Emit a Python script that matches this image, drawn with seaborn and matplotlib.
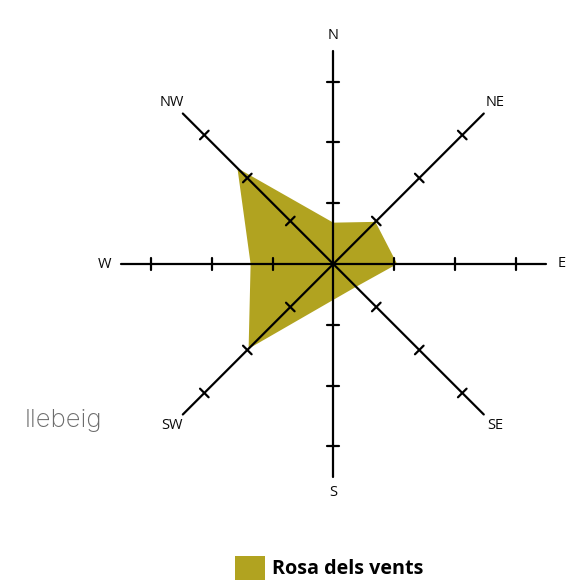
import numpy as np
import pandas as pd
import matplotlib
matplotlib.use("Agg")
import matplotlib.pyplot as plt
from matplotlib.patches import Patch
import seaborn as sns

# ---- data ----
directions = ["N", "NE", "E", "SE", "S", "SW", "W", "NW"]
bearings = [0, 45, 90, 135, 180, 225, 270, 315]
values = [0.68, 0.98, 1.05, 0.53, 0.59, 1.97, 1.36, 2.23]
tick_values = [1, 2, 3]
axis_max = 3.5
series_name = "Rosa dels vents"
side_note = "llebeig"

FILL = "#B1A320"

sns.set_theme(style="white")
plt.rcParams["font.family"] = ["Open Sans", "DejaVu Sans"]

W, H, DPI = 566, 586, 100
fig = plt.figure(figsize=(W / DPI, H / DPI), dpi=DPI)
ax = fig.add_axes([0, 0, 1, 1])
ax.set_axis_off()

px = 60.8  # pixels per unit
cx, cy = 333.3, 264.0  # centre in image pixels (from top)
ax.set_xlim(-cx / px, (W - cx) / px)
ax.set_ylim(-(H - cy) / px, cy / px)
ax.set_aspect("equal")

b = np.deg2rad(bearings)
ux, uy = np.sin(b), np.cos(b)

# filled rose
vals = np.array(values)
ax.fill(vals * ux, vals * uy, color=FILL, lw=0, zorder=1)

# spokes
rows = []
for d, x, y in zip(directions, ux, uy):
    rows.append({"dir": d, "x": 0.0, "y": 0.0})
    rows.append({"dir": d, "x": axis_max * x, "y": axis_max * y})
spokes = pd.DataFrame(rows)
sns.lineplot(data=spokes, x="x", y="y", units="dir", estimator=None, sort=False,
             color="black", lw=1.6, ax=ax, zorder=3, legend=False)

# tick marks perpendicular to spokes
half = 0.1
trows = []
k = 0
for x, y in zip(ux, uy):
    for t in tick_values:
        px0, py0 = t * x, t * y
        trows.append({"id": k, "x": px0 - half * y, "y": py0 + half * x})
        trows.append({"id": k, "x": px0 + half * y, "y": py0 - half * x})
        k += 1
ticks = pd.DataFrame(trows)
sns.lineplot(data=ticks, x="x", y="y", units="id", estimator=None, sort=False,
             color="black", lw=1.6, ax=ax, zorder=3, legend=False)

# direction labels
lab_r = 3.76
for d, x, y in zip(directions, ux, uy):
    ax.text(lab_r * x, lab_r * y, d, ha="center", va="center",
            fontsize=10.5, color="#0a0a0a", family=["Open Sans", "DejaVu Sans"])

ax.set_xlabel("")
ax.set_ylabel("")

# side note
fig.text(25 / W, 1 - 426.7 / H, side_note, ha="left", va="baseline",
         fontsize=18.5, color="#6c6c6c", fontweight="light",
         family=["Inter", "Liberation Sans", "DejaVu Sans"])

# legend
leg = fig.legend(handles=[Patch(facecolor=FILL, edgecolor="none")], labels=[series_name],
                 loc="center", bbox_to_anchor=(329 / W, 1 - 568 / H),
                 frameon=False, handlelength=1.52, handleheight=1.52,
                 handletextpad=0.36, borderpad=0,
                 prop={"family": "Open Sans", "weight": "bold", "size": 14.2})
for t in leg.get_texts():
    t.set_color("black")

fig.savefig("out.png", dpi=DPI, facecolor="white")
